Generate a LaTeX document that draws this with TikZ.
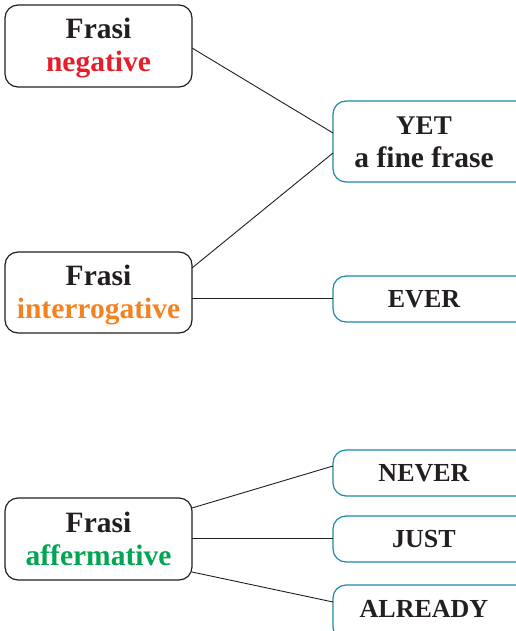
\documentclass[tikz,border=0pt]{standalone}
\usepackage{fontspec}
\setmainfont{Liberation Serif}
\definecolor{ink}{HTML}{231F20}
\definecolor{nred}{HTML}{E61E2A}
\definecolor{norange}{HTML}{F58220}
\definecolor{ngreen}{HTML}{00A651}
\definecolor{teal}{HTML}{1B8AA6}
\newcommand{\mystrut}{\rule[-7pt]{0pt}{29pt}}
\begin{document}
\begin{tikzpicture}[x=1pt,y=-1pt,
  lbox/.style={draw=ink,line width=1.2pt,rounded corners=13pt},
  rbox/.style={draw=teal,line width=1.2pt,rounded corners=13pt},
  txt/.style={font=\fontsize{29.5}{33}\selectfont\bfseries,text=ink,align=center,inner sep=0pt},
  ctxt/.style={font=\fontsize{26}{33}\selectfont\bfseries,text=ink,align=center,inner sep=0pt},
  link/.style={draw=ink,line width=0.9pt}]
\useasboundingbox (0,0) rectangle (515,631);
% left boxes
\draw[lbox] (5,5) rectangle (192,87);
\node[txt] (neg) at (98.5,48) {\mystrut Frasi\\\mystrut\textcolor{nred}{negative}};
\draw[lbox] (5,252) rectangle (192,333);
\node[txt] (int) at (98.5,294.5) {\mystrut Frasi\\\mystrut\textcolor{norange}{interrogative}};
\draw[lbox] (5,498) rectangle (192,580);
\node[txt] (aff) at (98.5,541) {\mystrut Frasi\\\mystrut\textcolor{ngreen}{affermative}};
% right boxes
\draw[rbox] (333,101) rectangle (529,182);
\node[txt] (yet) at (424,143.5) {\mystrut\fontsize{27}{33}\selectfont YET\\\mystrut a fine frase};
\draw[rbox] (333,276) rectangle (529,322);
\node[ctxt] (ever) at (424,300) {\mystrut EVER};
\draw[rbox] (333,450) rectangle (529,496);
\node[ctxt] (never) at (424,474) {\mystrut NEVER};
\draw[rbox] (333,516) rectangle (529,562);
\node[ctxt] (just) at (424,540) {\mystrut JUST};
\draw[rbox] (333,585) rectangle (529,640);
\node[ctxt] (already) at (424,610) {\mystrut ALREADY};
% anchor coordinates
\coordinate (n1) at (192,48); \coordinate (y1) at (333,133);
\coordinate (i1) at (192,268); \coordinate (y2) at (333,153);
\coordinate (i2) at (192,298); \coordinate (e1) at (333,298);
\coordinate (a1) at (192,508); \coordinate (nv) at (333,466);
\coordinate (a2) at (192,538); \coordinate (js) at (333,538);
\coordinate (a3) at (192,572); \coordinate (al) at (333,602);
\draw[link] (n1) -- (y1);
\draw[link] (i1) -- (y2);
\draw[link] (i2) -- (e1);
\draw[link] (a1) -- (nv);
\draw[link] (a2) -- (js);
\draw[link] (a3) -- (al);
\end{tikzpicture}
\end{document}
